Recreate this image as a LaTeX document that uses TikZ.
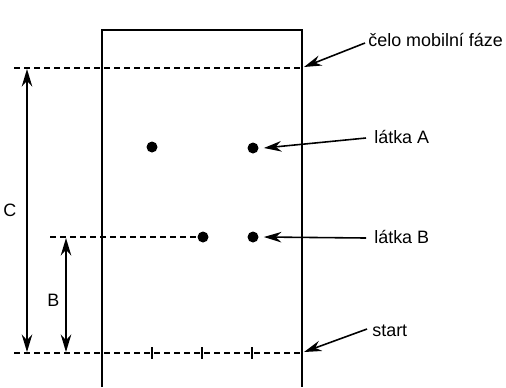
\documentclass[tikz,border=0pt]{standalone}
\usepackage{fontspec}
\setmainfont{Liberation Sans}
\usetikzlibrary{arrows.meta}

\begin{document}
\begin{tikzpicture}[x=0.02cm, y=-0.02cm,
    front/.style={line width=1pt, dash pattern=on 3.4pt off 2.3pt},
    spot/.style={circle, fill=black, inner sep=0pt, minimum size=0.22cm},
    label/.style={anchor=west, inner sep=0pt, font=\fontsize{10.2}{12}\selectfont},
    pointer/.style={line width=0.9pt, -{Stealth[length=10pt, width=6pt]}},
    measure/.style={line width=0.9pt, {Stealth[length=10pt, width=6pt]}-{Stealth[length=10pt, width=6pt]}}]
    \useasboundingbox (0,0) rectangle (506,387);
    % plate
    \draw[line width=0.8pt] (102,387) -- (102,30) -- (302,30) -- (302,387);
    % front, start and level of B
    \draw[front] (14,68) -- (302,68);
    \draw[front] (14,353) -- (302,353);
    \draw[front] (50,237) -- (200,237);
	\foreach \x in {152,202,252}
	    \draw[line width=1pt] (\x,347) -- (\x,359);
    % spots
	\node[spot] (a1) at (152,147) {};
	\node[spot] (a2) at (253,148) {};
	\node[spot] (b1) at (203,237) {};
	\node[spot] (b2) at (253,237) {};
	% labels
	\node[label] (front) at (368,40) {čelo mobilní fáze};
	\node[label] (latkaA) at (374,137) {látka A};
	\node[label] (latkaB) at (374,237) {látka B};
	\node[label] (start) at (372,331) {start};
	\coordinate (frontend) at (304,67);
	\coordinate (startend) at (304,352);
	\draw[pointer] (latkaA.west) ++(-8,1) -- ([xshift=0.1cm]a2.east);
	\draw[pointer] (latkaB.west) ++(-8,1) -- ([xshift=0.1cm]b2.east);
	\draw[pointer] (front.west) ++(-3,3) -- (frontend);
	\draw[pointer] (start.west) ++(-5,-2) -- (startend);
	% distances
	\coordinate (ctop) at (27,69);
	\coordinate (cbot) at (27,352);
	\coordinate (btop) at (66,238);
	\coordinate (bbot) at (66,352);
	\draw[measure] (ctop) -- (cbot);
	\draw[measure] (btop) -- (bbot);
	\node[label] (C) at (3,210) {C};
	\node[label] (B) at (47,300) {B};
\end{tikzpicture}
\end{document}
